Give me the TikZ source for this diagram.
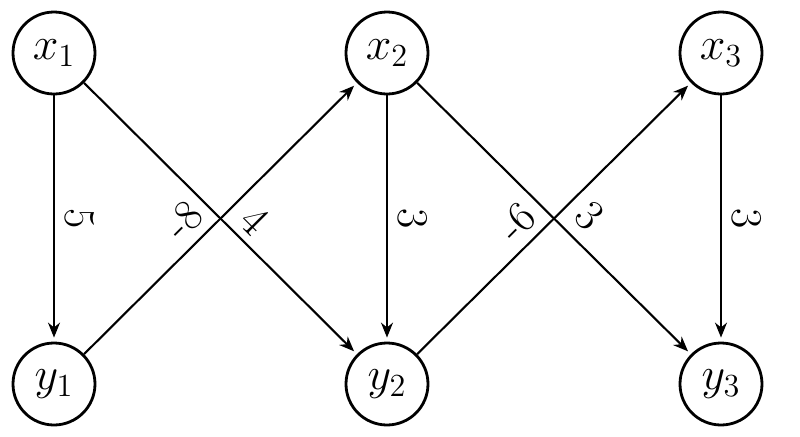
\documentclass[tikz,border=0pt]{standalone}
\usepackage{fix-cm}
\usetikzlibrary{arrows.meta}
\begin{document}
\begin{tikzpicture}[x=0.5pt,y=-0.5pt,
  vert/.style={circle,draw,line width=1.4pt,minimum size=41pt,inner sep=0pt,font=\fontsize{23}{27}\selectfont},
  arr/.style={-{Stealth[length=7.5pt,width=6pt]},line width=1.05pt,shorten >=2pt},
  lbl/.style={font=\fontsize{22}{26}\selectfont,inner sep=0pt}]
\useasboundingbox (0,0) rectangle (800,436);
\node[vert] (x1) at (54,53) {$x_1$};
\node[vert] (x2) at (387,53) {$x_2$};
\node[vert] (x3) at (721,53) {$x_3$};
\node[vert] (y1) at (54,384) {$y_1$};
\node[vert] (y2) at (387,384) {$y_2$};
\node[vert] (y3) at (721,384) {$y_3$};
\draw[arr] (x1) -- node[lbl,xshift=13pt,rotate=-90]{5} (y1);
\draw[arr] (x1) -- node[lbl,xshift=17.5pt,yshift=-1pt,rotate=-45]{4} (y2);
\draw[arr] (y1) -- node[lbl,xshift=-18.5pt,yshift=-1pt,rotate=45]{-8} (x2);
\draw[arr] (x2) -- node[lbl,xshift=13pt,rotate=-90]{3} (y2);
\draw[arr] (x2) -- node[lbl,xshift=18pt,yshift=1.5pt,rotate=-45]{3} (y3);
\draw[arr] (y2) -- node[lbl,xshift=-18.5pt,yshift=-2pt,rotate=45]{-6} (x3);
\draw[arr] (x3) -- node[lbl,xshift=13pt,rotate=-90]{3} (y3);
\end{tikzpicture}
\end{document}
